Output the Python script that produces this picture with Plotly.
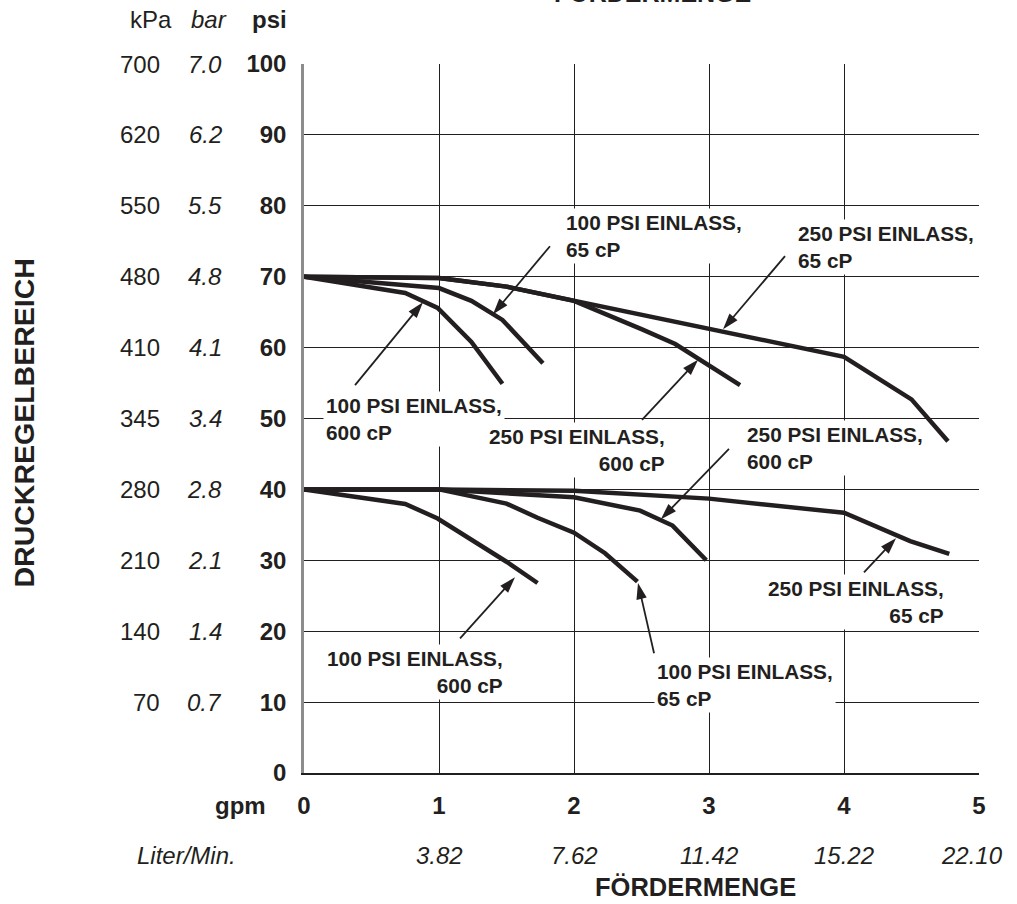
import plotly.graph_objects as go

# ---------------- data ----------------
# upper family (70 psi setting)
gpm_250_65_hi = [0, 1, 1.5, 2, 2.5, 3, 4, 4.5, 4.77]
psi_250_65_hi = [70, 69.8, 68.6, 66.6, 64.6, 62.6, 58.7, 52.7, 46.8]
gpm_250_600_hi = [0, 1, 1.5, 2, 2.5, 2.75, 3.23]
psi_250_600_hi = [70, 69.8, 68.6, 66.6, 62.6, 60.5, 54.7]
gpm_100_65_hi = [0, 1, 1.24, 1.47, 1.77]
psi_100_65_hi = [70, 68.4, 66.6, 63.9, 57.8]
gpm_100_600_hi = [0, 0.75, 0.99, 1.24, 1.47]
psi_100_600_hi = [70, 67.7, 65.6, 60.8, 54.9]
# lower family (40 psi setting)
gpm_250_65_lo = [0, 1, 2, 3, 4, 4.49, 4.78]
psi_250_65_lo = [40, 40, 39.8, 38.7, 36.7, 32.7, 30.9]
gpm_250_600_lo = [0, 1, 2, 2.49, 2.73, 2.98]
psi_250_600_lo = [40, 40, 38.9, 37, 34.9, 30]
gpm_100_65_lo = [0, 1, 1.5, 1.73, 2.0, 2.23, 2.47]
psi_100_65_lo = [40, 40, 38, 36, 33.9, 31, 27]
gpm_100_600_lo = [0, 0.75, 0.99, 1.24, 1.5, 1.73]
psi_100_600_lo = [40, 37.95, 35.9, 33, 29.8, 26.8]

psi_ticks = [0, 10, 20, 30, 40, 50, 60, 70, 80, 90, 100]
kpa_labels = ["", "70", "140", "210", "280", "345", "410", "480", "550", "620", "700"]
bar_labels = ["", "0.7", "1.4", "2.1", "2.8", "3.4", "4.1", "4.8", "5.5", "6.2", "7.0"]
gpm_ticks = [0, 1, 2, 3, 4, 5]
lpm_labels = ["3.82", "7.62", "11.42", "15.22", "22.10"]

# callouts: text, text anchor position, alignment, arrow tail, arrow tip
call_text = ["100 PSI EINLASS,<br>65 cP", "250 PSI EINLASS,<br>65 cP",
             "100 PSI EINLASS,<br>600 cP", "250 PSI EINLASS,<br>600 cP",
             "250 PSI EINLASS,<br>600 cP", "250 PSI EINLASS,<br>65 cP",
             "100 PSI EINLASS,<br>600 cP", "100 PSI EINLASS,<br>65 cP"]
call_x = [1.919, 3.637, 0.141, 2.696, 3.259, 4.763, 1.496, 2.593]
call_y = [75.7, 74.2, 50.0, 45.6, 45.8, 24.1, 14.2, 12.4]
call_side = ["left", "left", "left", "right", "left", "right", "right", "left"]
tail_x = [1.822, 3.563, 0.378, 2.504, 3.148, 4.148, 1.156, 2.593]
tail_y = [74.3, 72.9, 54.7, 49.8, 45.7, 28.3, 19.0, 16.9]
tip_x = [1.40, 3.104, 0.881, 2.919, 2.644, 4.385, 1.563, 2.474]
tip_y = [64.7, 62.6, 66.4, 58.3, 35.8, 33.1, 27.6, 26.8]

# ---------------- style ----------------
INK = "#231f20"
FONT = "Liberation Sans, Arial, Helvetica, sans-serif"

fig = go.Figure()

curves = [
    (gpm_250_65_hi, psi_250_65_hi), (gpm_250_600_hi, psi_250_600_hi),
    (gpm_100_65_hi, psi_100_65_hi), (gpm_100_600_hi, psi_100_600_hi),
    (gpm_250_65_lo, psi_250_65_lo), (gpm_250_600_lo, psi_250_600_lo),
    (gpm_100_65_lo, psi_100_65_lo), (gpm_100_600_lo, psi_100_600_lo),
]
for gx, gy in curves:
    fig.add_trace(go.Scatter(x=gx, y=gy, mode="lines",
                             line=dict(color=INK, width=4.5),
                             hoverinfo="skip", showlegend=False))

# arrows
for i in range(len(call_text)):
    fig.add_trace(go.Scatter(
        x=[tail_x[i], tip_x[i]], y=[tail_y[i], tip_y[i]],
        mode="lines+markers",
        line=dict(color=INK, width=1.8),
        marker=dict(symbol="arrow", size=[0, 17], angleref="previous",
                    color=INK, opacity=1, line=dict(width=0)),
        hoverinfo="skip", showlegend=False, cliponaxis=False))

annotations = []
for i in range(len(call_text)):
    annotations.append(dict(
        x=call_x[i], y=call_y[i], xref="x", yref="y", text=call_text[i],
        showarrow=False, xanchor=call_side[i], yanchor="middle",
        align=call_side[i], bgcolor="white", borderpad=2,
        font=dict(family=FONT, size=20.8, color=INK, weight="bold")))

# secondary pressure scales
for v, k, b in zip(psi_ticks, kpa_labels, bar_labels):
    if k:
        annotations.append(dict(x=0, y=v, xref="paper", yref="y", text=k,
                                showarrow=False, xanchor="right", yanchor="middle",
                                xshift=-142,
                                font=dict(family=FONT, size=24, color=INK)))
    if b:
        annotations.append(dict(x=0, y=v, xref="paper", yref="y", text=b,
                                showarrow=False, xanchor="right", yanchor="middle",
                                xshift=-80,
                                font=dict(family=FONT, size=24, color=INK, style="italic")))

# column headers
annotations += [
    dict(x=0, y=1, xref="paper", yref="paper", text="kPa", showarrow=False,
         xanchor="center", yanchor="middle", xshift=-153, yshift=45,
         font=dict(family=FONT, size=24, color=INK)),
    dict(x=0, y=1, xref="paper", yref="paper", text="bar", showarrow=False,
         xanchor="center", yanchor="middle", xshift=-95, yshift=45,
         font=dict(family=FONT, size=24, color=INK, style="italic")),
    dict(x=0, y=1, xref="paper", yref="paper", text="psi", showarrow=False,
         xanchor="center", yanchor="middle", xshift=-35, yshift=45,
         font=dict(family=FONT, size=24, color=INK, weight="bold")),
]

# flow scales
annotations.append(dict(x=0, y=0, xref="paper", yref="paper", text="gpm",
                        showarrow=False, xanchor="right", yanchor="middle",
                        xshift=-36, yshift=-32,
                        font=dict(family=FONT, size=24, color=INK, weight="bold")))
annotations.append(dict(x=0, y=0, xref="paper", yref="paper", text="Liter/Min.",
                        showarrow=False, xanchor="right", yanchor="middle",
                        xshift=-66, yshift=-82,
                        font=dict(family=FONT, size=24, color=INK, style="italic")))
for g, lab in zip(gpm_ticks[1:], lpm_labels):
    annotations.append(dict(x=g, y=0, xref="x", yref="paper", text=lab,
                            showarrow=False, xanchor="center", yanchor="middle",
                            xshift=-7 if g == 5 else 0, yshift=-82,
                            font=dict(family=FONT, size=24, color=INK, style="italic")))

# axis titles
annotations.append(dict(x=0.58, y=0, xref="paper", yref="paper", text="FÖRDERMENGE",
                        showarrow=False, xanchor="center", yanchor="middle",
                        yshift=-114,
                        font=dict(family=FONT, size=25.5, color=INK, weight="bold")))
annotations.append(dict(x=0.517, y=1, xref="paper", yref="paper", text="FÖRDERMENGE",
                        showarrow=False, xanchor="center", yanchor="bottom",
                        yshift=55,
                        font=dict(family=FONT, size=25, color=INK, weight="bold")))
annotations.append(dict(x=0, y=0.5, xref="paper", yref="paper", text="DRUCKREGELBEREICH",
                        showarrow=False, textangle=-90, xanchor="center", yanchor="middle",
                        xshift=-281, yshift=-5,
                        font=dict(family=FONT, size=28.5, color=INK, weight="bold")))

fig.update_layout(
    width=1017, height=904,
    margin=dict(l=304, r=38, t=64, b=131),
    paper_bgcolor="white", plot_bgcolor="white",
    showlegend=False,
    annotations=annotations,
    xaxis=dict(range=[0, 5], tickvals=gpm_ticks, ticktext=[str(g) for g in gpm_ticks],
               showgrid=True, gridcolor=INK, gridwidth=1, zeroline=False,
               showline=True, linecolor=INK, linewidth=1.5,
               ticks="", ticklabelstandoff=10,
               tickfont=dict(family=FONT, size=24, color=INK, weight="bold"),
               fixedrange=True),
    yaxis=dict(range=[0, 100], tickvals=psi_ticks, ticktext=[str(p) for p in psi_ticks],
               showgrid=True, gridcolor=INK, gridwidth=1, zeroline=False,
               showline=True, linecolor="#8c8c8c", linewidth=2.5,
               ticks="", ticklabelstandoff=10,
               tickfont=dict(family=FONT, size=24, color=INK, weight="bold"),
               fixedrange=True),
)

fig.write_html("out.html",
               config={"displayModeBar": False},
               post_script="document.body.style.margin='0px';document.body.style.overflow='hidden';")
